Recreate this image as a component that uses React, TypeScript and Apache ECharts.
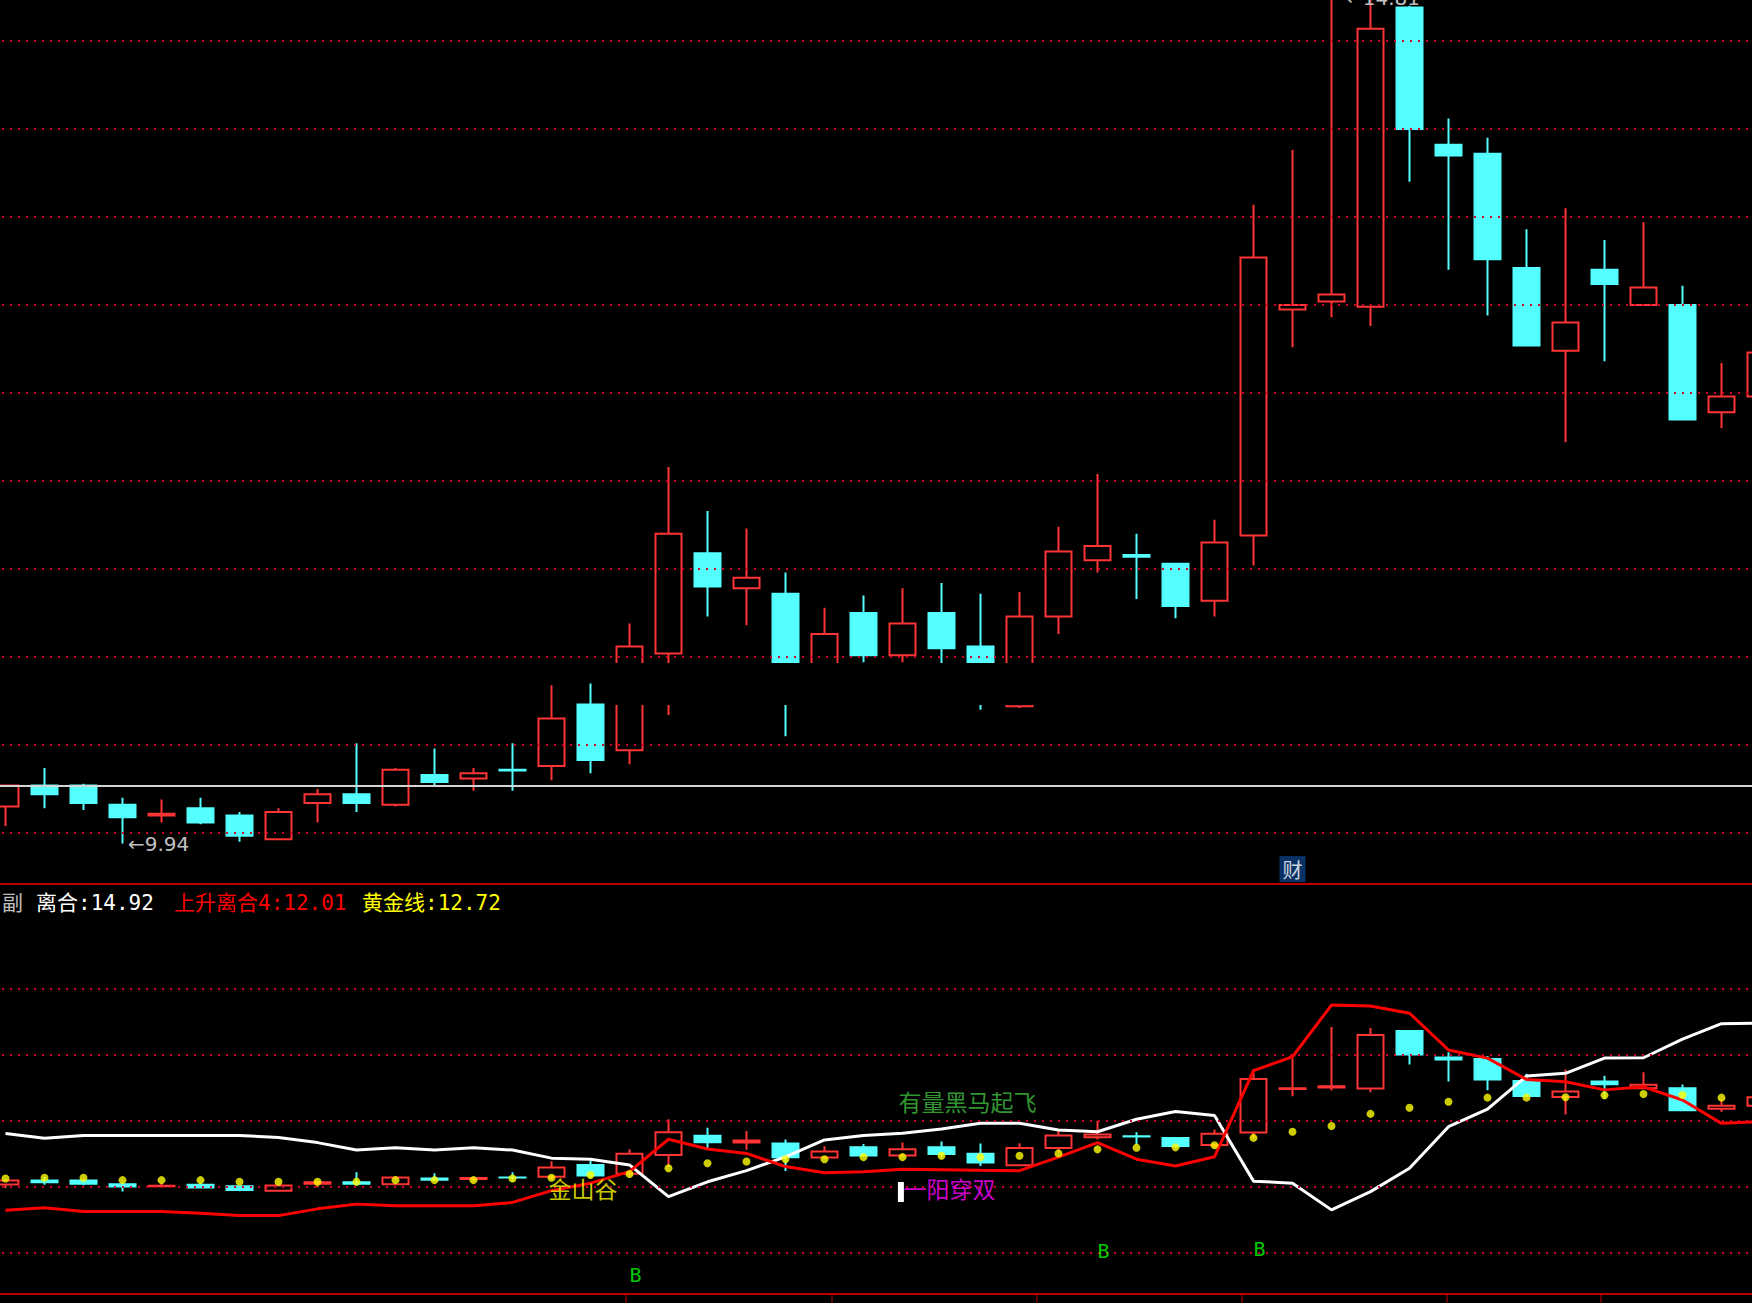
import React, { useEffect, useRef } from 'react';
import * as echarts from 'echarts';

// ---------- data ----------
const categories = ['1','2','3','4','5','6','7','8','9','10','11','12','13','14','15','16','17','18','19','20','21','22','23','24','25','26','27','28','29','30','31','32','33','34','35','36','37','38','39','40','41','42','43','44','45','46'];

const opens = [10.15, 10.27, 10.27, 10.16, 10.10, 10.14, 10.10, 9.965, 10.17, 10.22, 10.16, 10.33, 10.31, 10.36, 10.38, 10.73, 10.47, 11.02, 11.59, 11.39, 11.36, 10.95, 11.25, 11.01, 11.25, 11.06, 10.72, 11.23, 11.55, 11.58, 11.53, 11.32, 11.69, 12.975, 13.02, 12.99, 14.69, 13.91, 13.86, 13.21, 12.74, 13.20, 13.00, 13.00, 12.39, 12.48];
const closes = [10.27, 10.22, 10.17, 10.09, 10.11, 10.06, 9.985, 10.12, 10.22, 10.17, 10.36, 10.29, 10.34, 10.355, 10.65, 10.415, 11.06, 11.70, 11.40, 11.45, 10.96, 11.13, 11.01, 11.19, 11.05, 10.80, 11.23, 11.60, 11.63, 11.57, 11.29, 11.65, 13.27, 13.00, 13.06, 14.57, 14.00, 13.85, 13.26, 12.77, 12.90, 13.12, 13.10, 12.35, 12.48, 12.73];
const lows = [10.04, 10.14, 10.13, 9.94, 10.06, 10.05, 9.95, 9.96, 10.06, 10.12, 10.15, 10.27, 10.24, 10.24, 10.30, 10.34, 10.39, 10.67, 11.23, 11.18, 10.55, 10.90, 10.97, 10.97, 10.95, 10.70, 10.71, 11.13, 11.48, 11.33, 11.22, 11.23, 11.52, 12.76, 12.93, 12.88, 13.70, 13.20, 12.94, 12.77, 12.22, 12.68, 13.00, 12.35, 12.30, 12.45];
const highs = [10.27, 10.37, 10.28, 10.20, 10.19, 10.20, 10.12, 10.14, 10.25, 10.51, 10.37, 10.48, 10.37, 10.51, 10.84, 10.85, 11.19, 12.08, 11.83, 11.73, 11.48, 11.28, 11.35, 11.39, 11.42, 11.36, 11.37, 11.74, 12.04, 11.70, 11.53, 11.78, 13.57, 13.88, 14.81, 14.78, 14.70, 14.06, 13.95, 13.43, 13.55, 13.37, 13.47, 13.11, 12.67, 12.75];

// 离合 (white line)
const liheLine = [11.66, 11.52, 11.60, 11.60, 11.60, 11.60, 11.60, 11.54, 11.39, 11.17, 11.24, 11.17, 11.24, 11.17, 10.93, 10.90, 10.73, 9.79, 10.23, 10.56, 10.97, 11.47, 11.60, 11.67, 11.79, 11.96, 11.96, 11.76, 11.71, 12.08, 12.31, 12.19, 10.25, 10.19, 9.40, 9.94, 10.63, 11.86, 12.38, 13.36, 13.44, 13.89, 13.90, 14.45, 14.91, 14.92];
// 上升离合4 (red line)
const shangshengLine = [9.39, 9.46, 9.35, 9.35, 9.35, 9.30, 9.23, 9.23, 9.43, 9.57, 9.52, 9.52, 9.52, 9.62, 9.97, 10.19, 10.53, 11.49, 11.20, 11.07, 10.68, 10.50, 10.53, 10.60, 10.59, 10.57, 10.56, 10.96, 11.39, 10.90, 10.70, 10.97, 13.52, 13.93, 15.46, 15.43, 15.22, 14.13, 13.89, 13.26, 13.19, 12.95, 13.04, 12.65, 11.96, 12.01];
// 黄金线 (yellow dots)
const huangjinLine = [10.33, 10.35, 10.35, 10.28, 10.28, 10.28, 10.23, 10.23, 10.23, 10.23, 10.28, 10.28, 10.28, 10.33, 10.35, 10.43, 10.46, 10.63, 10.78, 10.83, 10.90, 10.90, 10.96, 10.96, 11.00, 10.96, 11.00, 11.07, 11.19, 11.24, 11.25, 11.31, 11.53, 11.71, 11.88, 12.24, 12.42, 12.60, 12.72, 12.72, 12.73, 12.79, 12.83, 12.80, 12.72, 12.72];

const upperGridLevels = [10.0, 10.5, 11.0, 11.5, 12.0, 12.5, 13.0, 13.5, 14.0, 14.5];
const lowerGridLevels = [15.935, 13.982, 12.03, 10.077, 8.124];
const referencePrice = 10.27;
const upperMin = 9.71023;
const upperMax = 14.73295;
const lowerMin = 6.911;
const lowerMax = 19.041;

const extremeIdx = [3, 34];
const extremeVal = [9.94, 14.81];

const caiIdx = 33;
const caiLevel = 9.795;

const bSignalIdx = [16, 28, 32];
const bSignalLevel = [7.47, 8.18, 8.24];

const jinshanguIdx = 14;
const jinshanguLevel = 10.05;
const heimaIdx = 23;
const heimaLevel = 12.63;
const yiyangIdx = 23;
const yiyangLevel = 10.05;
const stickIdx = 23;
const stickTop = 10.225;
const stickBottom = 9.633;

const dateTickX = [626, 832, 1037, 1242, 1447, 1601];

// ---------- layout ----------
const SHIFT = 14; // chart canvas starts 14px left of the page so the first bar is cut like the reference
const CHART_W = 1794;
const RED = '#ff3535';
const CYAN = '#54ffff';
const MONO_CJK = "'DejaVu Sans Mono', 'Noto Sans CJK SC', monospace";
const CJK = "'Noto Sans CJK SC', sans-serif";

function buildOption() {
  const ohlc = categories.map((_, i) => [opens[i], closes[i], lows[i], highs[i]]);
  const candleStyle = {
    color: 'rgba(0,0,0,0)',
    color0: CYAN,
    borderColor: RED,
    borderColor0: CYAN,
    borderWidth: 2,
  };
  const gridDots = { color: '#d0002a', type: [2, 6], width: 2 };
  const last = liheLine.length - 1;

  const headerY = 903;
  const header = [
    { x: 2, text: '副', fill: '#c0c0c0' },
    { x: 36, text: '离合:' + liheLine[last].toFixed(2), fill: '#ffffff' },
    { x: 174, text: '上升离合4:' + shangshengLine[last].toFixed(2), fill: '#ff0000' },
    { x: 362, text: '黄金线:' + huangjinLine[last].toFixed(2), fill: '#ffff00' },
  ];

  const annotations: any[] = [
    { value: [jinshanguIdx, jinshanguLevel], label: { formatter: '金山谷', color: '#ffff00', fontSize: 23, fontFamily: CJK, offset: [-3, 0] } },
    { value: [heimaIdx, heimaLevel], label: { formatter: '有量黑马起飞', color: '#3fbf3f', fontSize: 23, fontFamily: CJK, offset: [-4, 0] } },
    { value: [yiyangIdx, yiyangLevel], label: { formatter: '一阳穿双', color: '#ff00ff', fontSize: 23, fontFamily: CJK, offset: [1, 0] } },
  ];
  bSignalIdx.forEach((idx, k) => {
    annotations.push({ value: [idx, bSignalLevel[k]], label: { formatter: 'B', color: '#00ff00', fontSize: 20, fontFamily: "'DejaVu Sans Mono', monospace", offset: [0, 0] } });
  });

  return {
    animation: false,
    backgroundColor: '#000000',
    grid: [
      { left: 0, top: 0, width: CHART_W, height: 884 },
      { left: 0, top: 884, width: CHART_W, height: 410 },
    ],
    xAxis: [
      {
        type: 'category', gridIndex: 0, data: categories, boundaryGap: true,
        axisLine: { show: true, onZero: false, lineStyle: { color: '#c00000', width: 2 } },
        axisTick: { show: false }, axisLabel: { show: false }, splitLine: { show: false },
      },
      {
        type: 'category', gridIndex: 1, data: categories, boundaryGap: true,
        axisLine: { show: true, onZero: false, lineStyle: { color: '#c00000', width: 2 } },
        axisTick: { show: false }, axisLabel: { show: false }, splitLine: { show: false },
      },
    ],
    yAxis: [
      { type: 'value', gridIndex: 0, min: upperMin, max: upperMax, show: false, splitLine: { show: false } },
      { type: 'value', gridIndex: 1, min: lowerMin, max: lowerMax, show: false, splitLine: { show: false } },
    ],
    series: [
      {
        type: 'line', name: 'upper-grid', xAxisIndex: 0, yAxisIndex: 0, data: [], silent: true, z: 1,
        markLine: {
          silent: true, symbol: ['none', 'none'], label: { show: false }, lineStyle: gridDots,
          data: [
            ...upperGridLevels.map((v) => ({ yAxis: v })),
            { yAxis: referencePrice, lineStyle: { color: '#d4d4d4', type: 'solid', width: 2 } },
          ],
        },
      },
      {
        type: 'candlestick', name: 'K线', xAxisIndex: 0, yAxisIndex: 0, data: ohlc, barWidth: 27,
        itemStyle: candleStyle, z: 3,
        markPoint: {
          symbol: 'circle', symbolSize: 1, itemStyle: { color: 'rgba(0,0,0,0)' },
          label: {
            show: true, position: 'right', distance: 0, color: '#c0c0c0', fontSize: 20,
            fontFamily: "'DejaVu Sans', sans-serif",
            formatter: (p: any) => '←' + p.value,
          },
          data: extremeIdx.map((idx, k) => ({
            // a high above the visible range is pinned to the top edge, as the reference does
            coord: [idx, Math.min(extremeVal[k], upperMax - 0.001)],
            value: extremeVal[k].toFixed(2),
            label: k === 1 ? { offset: [14, -2] } : { offset: [5, 0] },
          })),
        },
      },
      {
        type: 'scatter', name: '财', xAxisIndex: 0, yAxisIndex: 0, data: [[caiIdx, caiLevel]],
        symbol: 'rect', symbolSize: 26, itemStyle: { color: '#0d3f80' }, z: 4,
        label: { show: true, position: 'inside', formatter: '财', color: '#ffffff', fontSize: 20, fontFamily: CJK },
      },
      {
        type: 'line', name: 'lower-grid', xAxisIndex: 1, yAxisIndex: 1, data: [], silent: true, z: 1,
        markLine: {
          silent: true, symbol: ['none', 'none'], label: { show: false }, lineStyle: gridDots,
          data: lowerGridLevels.map((v) => ({ yAxis: v })),
        },
      },
      {
        type: 'candlestick', name: 'K线副', xAxisIndex: 1, yAxisIndex: 1, data: ohlc, barWidth: 27,
        itemStyle: candleStyle, z: 3,
      },
      {
        type: 'line', name: '离合', xAxisIndex: 1, yAxisIndex: 1, data: liheLine, symbol: 'none',
        lineStyle: { color: '#ffffff', width: 3 }, z: 4,
      },
      {
        type: 'line', name: '上升离合4', xAxisIndex: 1, yAxisIndex: 1, data: shangshengLine, symbol: 'none',
        lineStyle: { color: '#ff0000', width: 3 }, z: 4,
      },
      {
        type: 'scatter', name: '黄金线', xAxisIndex: 1, yAxisIndex: 1,
        data: huangjinLine.map((v, i) => [i, v]), symbol: 'circle', symbolSize: 8,
        itemStyle: { color: '#ffff00' }, z: 5,
      },
      {
        type: 'custom', name: 'stick', xAxisIndex: 1, yAxisIndex: 1, z: 5,
        data: [[stickIdx, stickTop, stickBottom]],
        encode: { x: 0, y: [1, 2] },
        renderItem: (params: any, api: any) => {
          const top = api.coord([api.value(0), api.value(1)]);
          const bot = api.coord([api.value(0), api.value(2)]);
          return {
            type: 'rect',
            shape: { x: top[0] - 4.6, y: top[1], width: 6, height: bot[1] - top[1] },
            style: { fill: '#ffffff' },
          };
        },
      },
      {
        type: 'scatter', name: 'signals', xAxisIndex: 1, yAxisIndex: 1, symbolSize: 0, z: 6,
        label: { show: true, position: 'right', distance: 0 },
        data: annotations,
      },
    ],
    graphic: [
      ...header.map((h) => ({
        type: 'text', x: h.x + SHIFT, y: headerY, z: 10,
        style: { text: h.text, fill: h.fill, fontSize: 21, fontFamily: MONO_CJK, textVerticalAlign: 'middle', verticalAlign: 'middle', textAlign: 'left', align: 'left' },
      })),
      ...dateTickX.map((x) => ({
        type: 'line', z: 10, shape: { x1: x + SHIFT, y1: 1295, x2: x + SHIFT, y2: 1303 }, style: { stroke: '#c00000', lineWidth: 1 },
      })),
      {
        type: 'rect', z: 100, shape: { x: 608 + SHIFT, y: 663, width: 432, height: 42 }, style: { fill: '#000000' },
      },
    ],
  };
}

export default function App() {
  const ref = useRef<HTMLDivElement>(null);
  useEffect(() => {
    document.body.style.margin = '0';
    document.body.style.background = '#000';
    const chart = echarts.init(ref.current as HTMLDivElement, null, { renderer: 'svg' });
    chart.setOption(buildOption() as any);
    return () => chart.dispose();
  }, []);
  return (
    <div style={{ position: 'fixed', left: 0, top: 0, width: 1752, height: 1303, background: '#000', overflow: 'hidden' }}>
      <div ref={ref} style={{ position: 'absolute', left: -SHIFT, top: 0, width: CHART_W, height: 1303 }} />
    </div>
  );
}
